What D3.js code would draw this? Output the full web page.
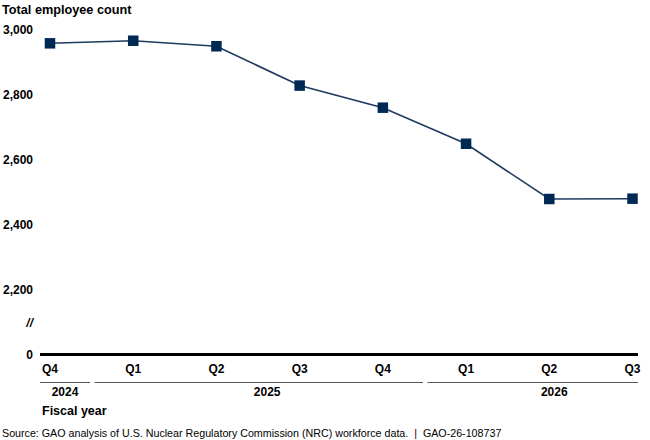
<!DOCTYPE html>
<html>
<head>
<meta charset="utf-8">
<script src="https://cdn.jsdelivr.net/npm/d3@7"></script>
<style>
  html, body { margin: 0; padding: 0; background: #fff; }
  text { font-family: "Liberation Sans", Arial, sans-serif; }
</style>
</head>
<body>
<svg id="chart" width="650" height="440"></svg>
<script>
// ---- data ----
const quarters = ["Q4", "Q1", "Q2", "Q3", "Q4", "Q1", "Q2", "Q3"];
const fiscalYears = ["2024", "2025", "2025", "2025", "2025", "2026", "2026", "2026"];
const employeeCounts = [2959, 2967, 2950, 2829, 2761, 2650, 2480, 2481];
const yTickValues = [2000, 2200, 2400, 2600, 2800, 3000];
const yTickLabels = ["0", "2,200", "2,400", "2,600", "2,800", "3,000"];

// ---- layout ----
const svg = d3.select("#chart");
const axisLeft = 40, axisRight = 638;
const x = d3.scalePoint().domain(d3.range(quarters.length)).range([50, 632.5]);
const y = d3.scaleLinear().domain([2000, 3000]).range([355, 30]);
const navy = "#002855";

// title
svg.append("text").attr("x", 2).attr("y", 14)
  .attr("font-size", 12.7).attr("font-weight", "bold").attr("fill", "#000")
  .text("Total employee count");

// y tick labels
svg.append("g").selectAll("text").data(yTickValues).join("text")
  .attr("x", 33).attr("y", d => y(d)).attr("dy", "0.36em")
  .attr("text-anchor", "end").attr("font-size", 12).attr("font-weight", "bold")
  .attr("fill", "#000")
  .text((d, i) => yTickLabels[i]);

// axis break mark
svg.append("text").attr("x", 33).attr("y", y(2100)).attr("dy", "0.36em")
  .attr("text-anchor", "end").attr("font-size", 12).attr("font-weight", "bold")
  .attr("font-style", "italic").attr("fill", "#000").text("//");

// baseline
svg.append("line").attr("x1", axisLeft).attr("x2", axisRight)
  .attr("y1", y(2000) - 0.5).attr("y2", y(2000) - 0.5)
  .attr("stroke", "#000").attr("stroke-width", 3);

// quarter labels
svg.append("g").selectAll("text").data(quarters).join("text")
  .attr("x", (d, i) => x(i)).attr("y", 369).attr("dy", "0.36em")
  .attr("text-anchor", (d, i) => i === 0 ? "start" : (i === quarters.length - 1 ? "end" : "middle"))
  .attr("dx", (d, i) => i === 0 ? -8 : (i === quarters.length - 1 ? 8 : 0))
  .attr("font-size", 12).attr("font-weight", "bold").attr("fill", "#000")
  .text(d => d);

// fiscal year groups
const groups = d3.groups(quarters.map((q, i) => ({ i, fy: fiscalYears[i] })), d => d.fy)
  .map(([fy, items]) => ({ fy, first: items[0].i, last: items[items.length - 1].i }));
const step = x.step();
const labelShift = { "2024": 0.18, "2025": 1.61, "2026": 1.06 };
groups.forEach((g, gi) => {
  const x1 = gi === 0 ? axisLeft : x(g.first) - step / 2 + 3;
  const x2 = gi === groups.length - 1 ? axisRight : x(g.last) + step / 2 - 1.5;
  svg.append("line").attr("x1", x1).attr("x2", x2).attr("y1", 382.5).attr("y2", 382.5)
    .attr("stroke", "#555").attr("stroke-width", 1.2);
  svg.append("text").attr("x", x(g.first) + labelShift[g.fy] * step)
    .attr("y", 392).attr("dy", "0.36em").attr("text-anchor", "middle")
    .attr("font-size", 12).attr("font-weight", "bold").attr("fill", "#000")
    .text(g.fy);
});

// x axis title
svg.append("text").attr("x", 42).attr("y", 410).attr("dy", "0.36em")
  .attr("font-size", 12.5).attr("font-weight", "bold").attr("fill", "#000")
  .text("Fiscal year");

// line
svg.append("path").datum(employeeCounts)
  .attr("fill", "none").attr("stroke", "#1f3a60").attr("stroke-width", 1.6)
  .attr("d", d3.line().x((d, i) => x(i)).y(d => y(d)));

// markers
const ms = 10.5;
svg.append("g").selectAll("rect").data(employeeCounts).join("rect")
  .attr("x", (d, i) => x(i) - ms / 2).attr("y", d => y(d) - ms / 2)
  .attr("width", ms).attr("height", ms).attr("fill", navy);

// source
svg.append("text").attr("x", 2).attr("y", 433).attr("dy", "0.36em")
  .attr("font-size", 10.7).attr("fill", "#000")
  .text("Source: GAO analysis of U.S. Nuclear Regulatory Commission (NRC) workforce data.\u00a0\u00a0|\u00a0\u00a0GAO-26-108737");
</script>
</body>
</html>
